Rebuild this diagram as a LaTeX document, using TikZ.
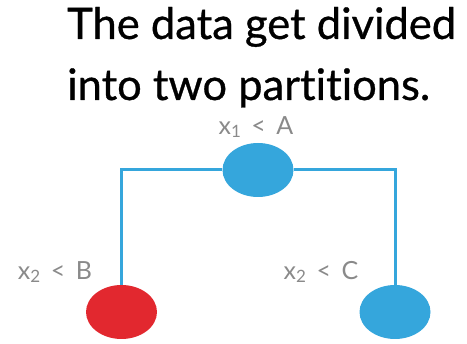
\documentclass[tikz,border=0pt]{standalone}
\usepackage{fontspec}
\setmainfont[Ligatures=NoCommon]{Lato}
\newfontfamily\titlefont[Ligatures=NoCommon,FakeBold=0.7]{Lato}
\usetikzlibrary{shapes.geometric}
\definecolor{lblue}{HTML}{35A6DC}
\definecolor{lred}{HTML}{E2282F}
\definecolor{lgrey}{HTML}{8A8A8A}
\newcommand{\sbs}[1]{\raisebox{-0.3ex}{\fontsize{17}{18}\selectfont #1}}
\begin{document}
\begin{tikzpicture}[x=1pt,y=-1pt,
  leaf/.style={ellipse, minimum width=71pt, minimum height=54pt, inner sep=0pt},
  link/.style={draw=lblue, line width=3pt},
  cond/.style={text=lgrey, font=\fontsize{25}{27}\selectfont},
  title/.style={anchor=base west, font=\titlefont\fontsize{43.5}{46}\selectfont, inner sep=0pt}]
\useasboundingbox (0,0) rectangle (467,344);
\node[title] (t1) at (67,39) {The data get divided};
\node[title] (t2) at (67,100) {into two partitions.};
\node[leaf, fill=lblue] (root) at (258,170) {};
\node[leaf, fill=lred] (left) at (121.5,312) {};
\node[leaf, fill=lblue] (right) at (395,312) {};
\draw[link] (root.west) -- (root.west -| left.north) coordinate (lc) -- (left.north);
\draw[link] (root.east) -- (root.east -| right.north) coordinate (rc) -- (right.north);
\node[cond] (la) at (256,127) {x\sbs{1}\, <\, A};
\node[cond] (lb) at (55,272) {x\sbs{2}\, <\, B};
\node[cond] (lcc) at (321,272) {x\sbs{2}\, <\, C};
\end{tikzpicture}
\end{document}
